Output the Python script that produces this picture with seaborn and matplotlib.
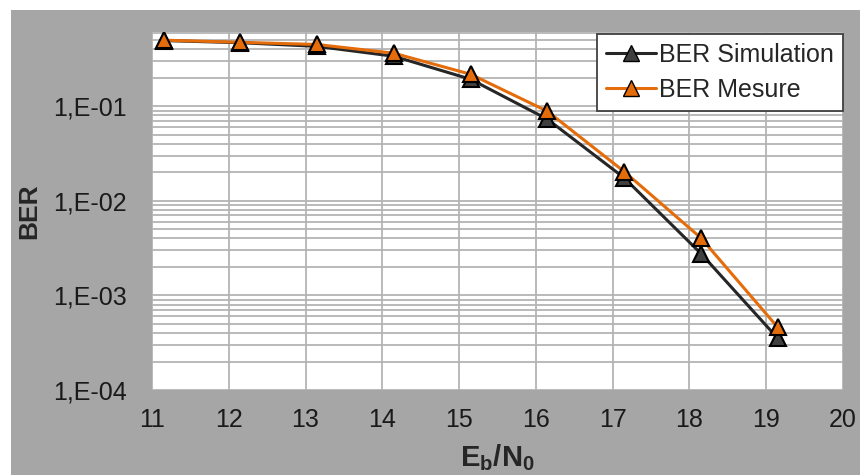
import numpy as np
import pandas as pd
import seaborn as sns
import matplotlib.pyplot as plt
import matplotlib.ticker as ticker
from matplotlib.patches import Rectangle

ebn0 = [11.15, 12.15, 13.15, 14.15, 15.15, 16.15, 17.15, 18.15, 19.15]
ber_simulation = [0.495, 0.47, 0.43, 0.338, 0.193, 0.073, 0.0175, 0.00277, 0.000352]
ber_mesure = [0.50, 0.475, 0.45, 0.364, 0.218, 0.0885, 0.0204, 0.00405, 0.00046]
series_names = ['BER Simulation', 'BER Mesure']
y_ticks = [1e-4, 1e-3, 1e-2, 1e-1]
x_ticks = list(range(11, 21))


def format_ber(value, _):
    return '1,E-{:02d}'.format(int(round(-np.log10(value))))


def run_chart():
    df = pd.DataFrame({
        'EbN0': ebn0 * 2,
        'BER': ber_simulation + ber_mesure,
        'serie': [series_names[0]] * len(ebn0) + [series_names[1]] * len(ebn0),
    })

    sns.set_style('white')
    plt.rcParams['font.family'] = ['Liberation Sans', 'DejaVu Sans']
    plt.rcParams['mathtext.fontset'] = 'custom'
    plt.rcParams['mathtext.rm'] = 'Liberation Sans'
    plt.rcParams['mathtext.bf'] = 'Liberation Sans:bold'

    fig = plt.figure(figsize=(8.6, 4.75), dpi=100, facecolor='white')
    fig.patches.append(Rectangle((11 / 860, 0), 1, (475 - 10) / 475, transform=fig.transFigure,
                                 facecolor='#A6A6A6', edgecolor='none', zorder=-10))
    ax = fig.add_axes([152 / 860, (475 - 390) / 475, (843 - 152) / 860, (390 - 32) / 475])
    ax.set_facecolor('white')

    palette = {series_names[0]: '#262626', series_names[1]: '#E46C0A'}
    sns.lineplot(data=df, x='EbN0', y='BER', hue='serie', palette=palette, marker='^',
                 markersize=11, markeredgecolor='black', markeredgewidth=1.5,
                 linewidth=2.2, ax=ax, legend=False, sort=False)
    # dark grey fill for the simulation markers
    ax.lines[0].set_markerfacecolor('#404040')

    ax.set_yscale('log')
    ax.set_xlim(11, 20)
    ax.set_ylim(1e-4, 0.61)
    ax.set_xticks(x_ticks)
    ax.set_yticks(y_ticks)
    ax.yaxis.set_major_formatter(ticker.FuncFormatter(format_ber))
    ax.yaxis.set_minor_locator(ticker.LogLocator(base=10, subs=np.arange(2, 10)))
    ax.yaxis.set_minor_formatter(ticker.NullFormatter())

    ax.grid(True, which='both', axis='y', color='#B4B4B4', linewidth=1.3)
    ax.grid(True, which='major', axis='x', color='#B4B4B4', linewidth=1.3)
    ax.set_axisbelow(True)
    for s in ax.spines.values():
        s.set_visible(False)

    ax.tick_params(axis='x', which='both', length=0, pad=13, labelsize=18, colors='#1A1A1A')
    ax.tick_params(axis='y', which='major', length=6, width=1.3, color='#B4B4B4', pad=12,
                   labelsize=18, labelcolor='#1A1A1A')
    ax.tick_params(axis='y', which='minor', length=6, width=1.3, color='#B4B4B4')

    ax.set_ylabel('BER', fontsize=19, fontweight='bold', labelpad=9)
    ax.set_xlabel(r'$\mathbf{E_b/N_0}$', fontsize=21, labelpad=7)

    handles = [plt.Line2D([0], [0], color='#262626', linewidth=2.2, marker='^', markersize=11,
                          markerfacecolor='#404040', markeredgecolor='black'),
               plt.Line2D([0], [0], color='#E46C0A', linewidth=2.2, marker='^', markersize=11,
                          markerfacecolor='#E46C0A', markeredgecolor='black')]
    leg = ax.legend(handles, series_names, loc='upper right', bbox_to_anchor=(1.0, 0.995),
                    fontsize=18, frameon=True, fancybox=False, framealpha=1,
                    handlelength=2.0, handletextpad=0.15, labelspacing=0.45,
                    borderpad=0.35, borderaxespad=0)
    leg.get_frame().set_edgecolor('#404040')
    leg.get_frame().set_linewidth(1.3)

    fig.savefig('out.png', dpi=100, facecolor=fig.get_facecolor())


run_chart()
